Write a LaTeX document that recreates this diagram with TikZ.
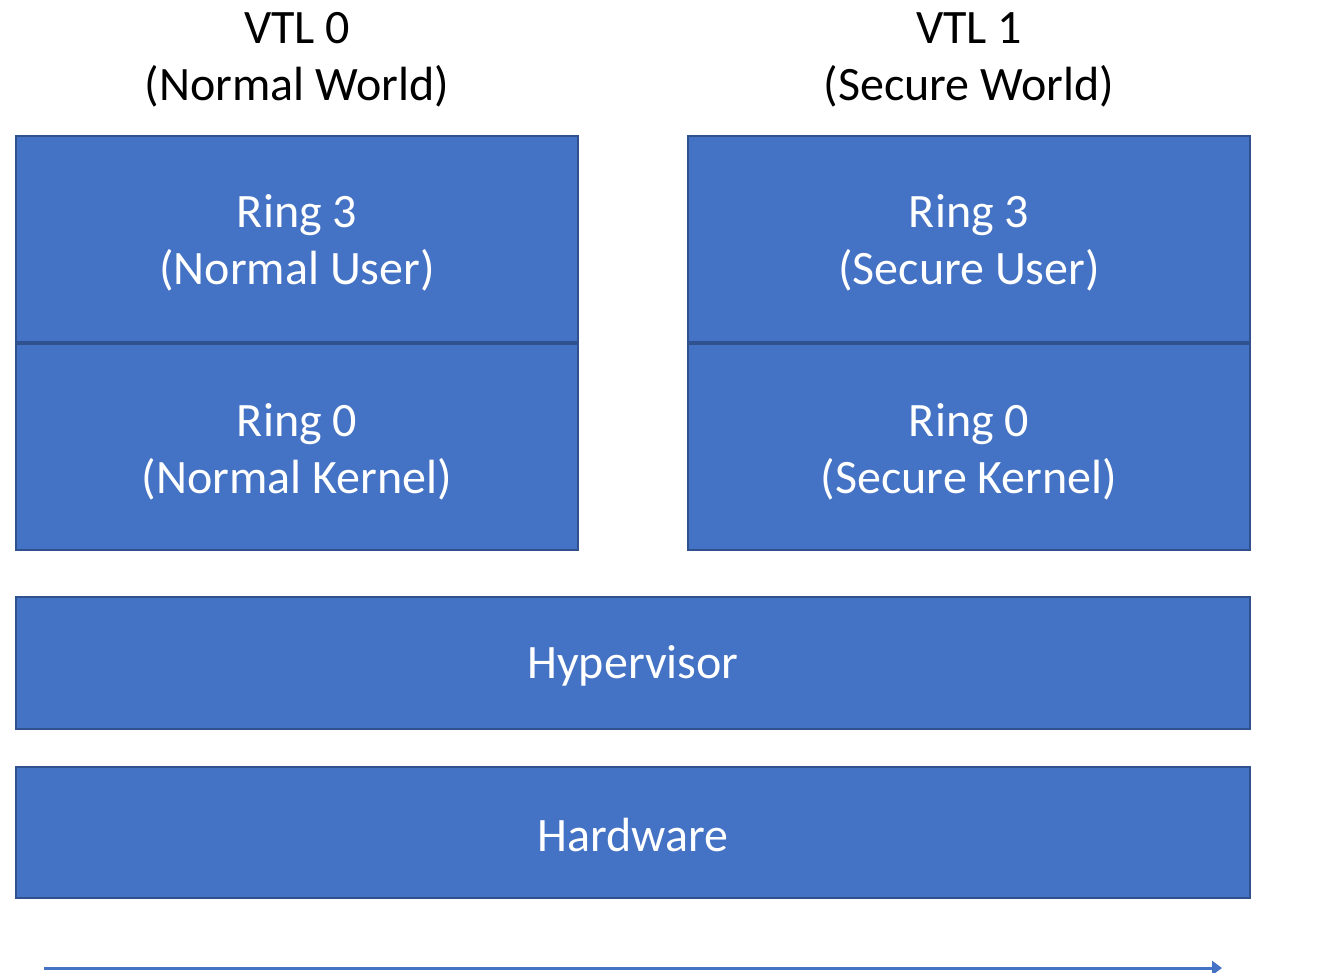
\documentclass[tikz,border=0pt]{standalone}
\usepackage{fontspec}
\setmainfont{Carlito}
\usetikzlibrary{arrows.meta}
\definecolor{boxfill}{HTML}{4472C4}
\definecolor{boxline}{HTML}{2F528F}
\begin{document}
\begin{tikzpicture}[x=0.5pt,y=-0.5pt,
  layer/.style={draw=boxline,fill=boxfill,line width=1.1pt},
  lbl/.style={font=\fontsize{24}{28.5}\selectfont,align=center,text=white},
  hdr/.style={font=\fontsize{24}{28.5}\selectfont,align=center,text=black}]
\useasboundingbox (0,0) rectangle (1337,973);
\draw[layer] (16,136) rectangle (578,343);
\draw[layer] (16,343) rectangle (578,550);
\draw[layer] (688,136) rectangle (1250,343);
\draw[layer] (688,343) rectangle (1250,550);
\draw[layer] (16,597) rectangle (1250,729);
\draw[layer] (16,767) rectangle (1250,898);
\draw[boxline,line width=1.6pt] (16,343) -- (578,343);
\draw[boxline,line width=1.6pt] (688,343) -- (1250,343);
\node[hdr] (h0) at (297,60) {VTL 0\\(Normal World)};
\node[hdr] (h1) at (969,60) {VTL 1\\(Secure World)};
\node[lbl] (r3n) at (297,243) {Ring 3\\(Normal User)};
\node[lbl] (r0n) at (297,452) {Ring 0\\(Normal Kernel)};
\node[lbl] (r3s) at (969,243) {Ring 3\\(Secure User)};
\node[lbl] (r0s) at (969,452) {Ring 0\\(Secure Kernel)};
\node[lbl] (hv) at (633,666) {Hypervisor};
\node[lbl] (hw) at (633,835) {Hardware};
\coordinate (a0) at (44,968);
\coordinate (a1) at (1222,968);
\draw[boxfill,line width=1.5pt,-{Triangle[length=5pt,width=7pt]}] (a0) -- (a1);
\end{tikzpicture}
\end{document}
